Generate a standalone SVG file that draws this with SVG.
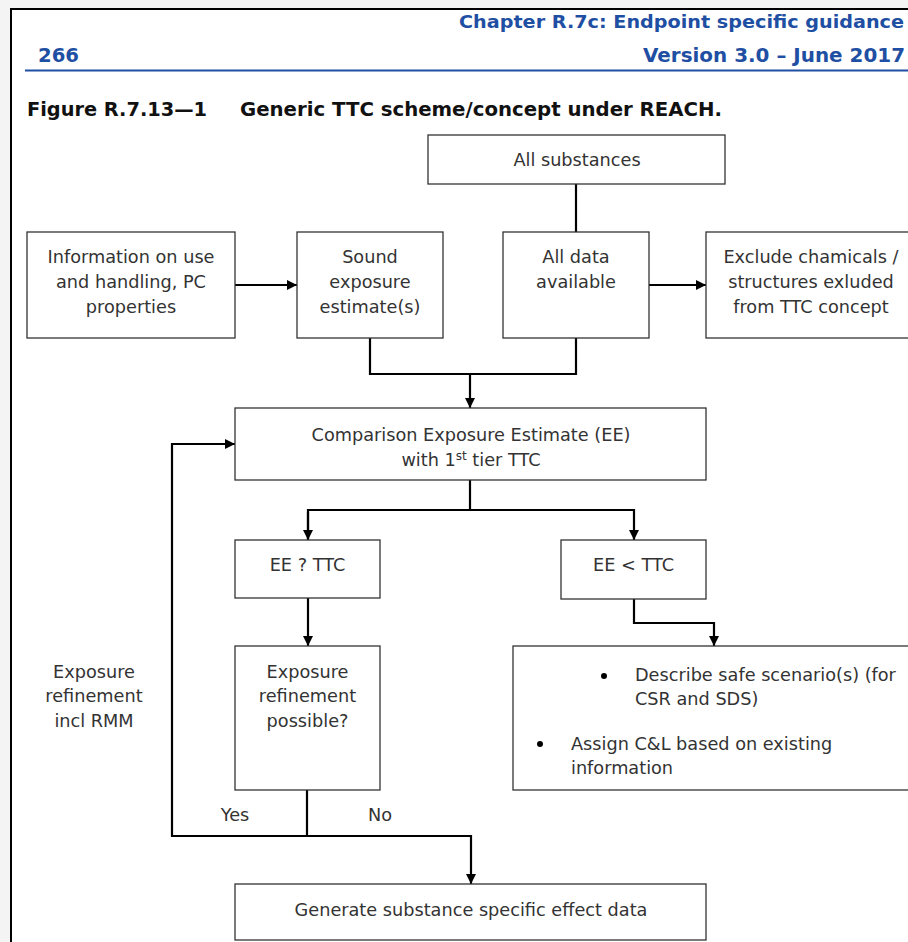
<svg xmlns="http://www.w3.org/2000/svg" width="908" height="942" viewBox="0 0 908 942">
<defs>
<style>
.box{fill:#fff;stroke:#333;stroke-width:1.3}
.t{font-family:"DejaVu Sans",Verdana,sans-serif;font-size:17.7px;fill:#333;text-anchor:middle}
.tl{font-family:"DejaVu Sans",Verdana,sans-serif;font-size:17.7px;fill:#333}
.hdr{font-family:"DejaVu Sans",Verdana,sans-serif;font-size:19.5px;font-weight:bold;fill:#1f4fa3}
.fig{font-family:"DejaVu Sans",Verdana,sans-serif;font-size:19.5px;font-weight:bold;fill:#111}
.ln{fill:none;stroke:#000;stroke-width:2.2}
</style>
<marker id="ah" viewBox="0 0 10 10" refX="10" refY="5" markerWidth="10" markerHeight="10" markerUnits="userSpaceOnUse" orient="auto">
<path d="M0,0 L10,5 L0,10 z" fill="#000"/>
</marker>
</defs>
<rect x="0" y="0" width="908" height="942" fill="#f4f4f4"/>
<rect x="11" y="9" width="910" height="940" fill="#fff" stroke="#000" stroke-width="2"/>
<g id="header">
<text class="hdr" x="459" y="28" style="font-size:18.5px" textLength="445" lengthAdjust="spacingAndGlyphs">Chapter R.7c: Endpoint specific guidance</text>
<text class="hdr" x="38" y="62" textLength="41" lengthAdjust="spacingAndGlyphs">266</text>
<text class="hdr" x="643" y="62" textLength="262" lengthAdjust="spacingAndGlyphs">Version 3.0 – June 2017</text>
<line x1="25" y1="70.5" x2="908" y2="70.5" stroke="#1f4fa3" stroke-width="2"/>
<text class="fig" x="27" y="116" textLength="180" lengthAdjust="spacingAndGlyphs">Figure R.7.13—1</text>
<text class="fig" x="240" y="116" textLength="482" lengthAdjust="spacingAndGlyphs">Generic TTC scheme/concept under REACH.</text>
</g>
<g id="connectors">
<line class="ln" x1="576" y1="184" x2="576" y2="232"/>
<line class="ln" x1="235" y1="285" x2="297" y2="285" marker-end="url(#ah)"/>
<line class="ln" x1="649" y1="285" x2="706" y2="285" marker-end="url(#ah)"/>
<polyline class="ln" points="370,338 370,374 576,374 576,338"/>
<line class="ln" x1="470" y1="374" x2="470" y2="408" marker-end="url(#ah)"/>
<line class="ln" x1="470" y1="480" x2="470" y2="510"/>
<polyline class="ln" points="308,540 308,510 634,510 634,540" marker-end="url(#ah)"/>
<line class="ln" x1="308" y1="512" x2="308" y2="540" marker-end="url(#ah)"/>
<line class="ln" x1="308" y1="598" x2="308" y2="646" marker-end="url(#ah)"/>
<polyline class="ln" points="634,599 634,623 714,623 714,646" marker-end="url(#ah)"/>
<polyline class="ln" points="307,790 307,836 172,836 172,444 235,444" marker-end="url(#ah)"/>
<polyline class="ln" points="307,836 471,836 471,884" marker-end="url(#ah)"/>
</g>
<g id="n_all_substances">
<rect class="box" x="428" y="135" width="297" height="49"/>
<text class="t" x="577" y="166">All substances</text>
</g>
<g id="n_info">
<rect class="box" x="27" y="232" width="208" height="106"/>
<text class="t" x="131" y="263">Information on use</text>
<text class="t" x="131" y="288">and handling, PC</text>
<text class="t" x="131" y="313">properties</text>
</g>
<g id="n_sound">
<rect class="box" x="297" y="232" width="146" height="106"/>
<text class="t" x="370" y="263">Sound</text>
<text class="t" x="370" y="288">exposure</text>
<text class="t" x="370" y="313">estimate(s)</text>
</g>
<g id="n_alldata">
<rect class="box" x="503" y="232" width="146" height="106"/>
<text class="t" x="576" y="263">All data</text>
<text class="t" x="576" y="288">available</text>
</g>
<g id="n_exclude">
<rect class="box" x="706" y="232" width="220" height="106"/>
<text class="t" x="811" y="263">Exclude chamicals /</text>
<text class="t" x="811" y="288">structures exluded</text>
<text class="t" x="811" y="313">from TTC concept</text>
</g>
<g id="n_comparison">
<rect class="box" x="235" y="408" width="471" height="72"/>
<text class="t" x="471" y="441">Comparison Exposure Estimate (EE)</text>
<text class="t" x="471" y="466">with 1<tspan font-size="12" dy="-6">st</tspan><tspan dy="6"> tier TTC</tspan></text>
</g>
<g id="n_ee_q">
<rect class="box" x="235" y="540" width="145" height="58"/>
<text class="t" x="307.5" y="571">EE ? TTC</text>
</g>
<g id="n_ee_lt">
<rect class="box" x="561" y="540" width="145" height="59"/>
<text class="t" x="633.5" y="571">EE &lt; TTC</text>
</g>
<g id="n_refine">
<rect class="box" x="235" y="646" width="145" height="144"/>
<text class="t" x="307.5" y="678">Exposure</text>
<text class="t" x="307.5" y="702">refinement</text>
<text class="t" x="307.5" y="727">possible?</text>
</g>
<g id="n_describe">
<rect class="box" x="513" y="646" width="420" height="144"/>
<circle cx="604" cy="676" r="3" fill="#000"/>
<text class="tl" x="635" y="681">Describe safe scenario(s) (for</text>
<text class="tl" x="635" y="705">CSR and SDS)</text>
<circle cx="540" cy="744" r="3" fill="#000"/>
<text class="tl" x="571" y="750">Assign C&amp;L based on existing</text>
<text class="tl" x="571" y="774">information</text>
</g>
<g id="n_generate">
<rect class="box" x="235" y="884" width="471" height="56"/>
<text class="t" x="471" y="916">Generate substance specific effect data</text>
</g>
<g id="labels">
<text class="t" x="94" y="678">Exposure</text>
<text class="t" x="94" y="702">refinement</text>
<text class="t" x="94" y="727">incl RMM</text>
<text class="t" x="235" y="821">Yes</text>
<text class="t" x="380" y="821">No</text>
</g>
</svg>
